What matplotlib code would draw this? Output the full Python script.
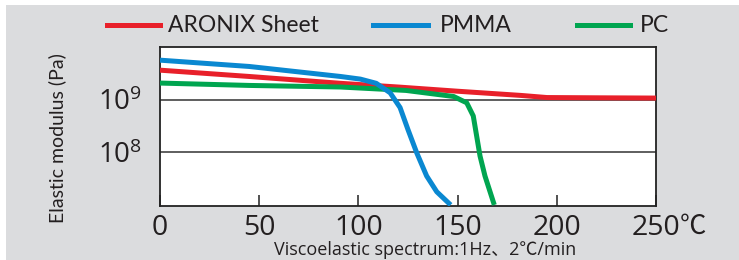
import matplotlib
matplotlib.use("Agg")
import matplotlib.pyplot as plt
from matplotlib.patches import Rectangle
import numpy as np

plt.rcParams['font.family'] = ['Open Sans', 'DejaVu Sans']
plt.rcParams['mathtext.fontset'] = 'custom'
plt.rcParams['mathtext.rm'] = 'Open Sans'
plt.rcParams['mathtext.it'] = 'Open Sans'

NARROW = ['Lato', 'Open Sans', 'DejaVu Sans']

# Data (temperature in degC, log10 of elastic modulus in Pa)
aronix_t = [0, 45, 91, 120, 150, 182, 195, 220, 250]
aronix_logE = [9.56, 9.44, 9.31, 9.24, 9.16, 9.08, 9.04, 9.035, 9.03]

pmma_t = [0, 45, 91, 101, 109, 116, 121, 125, 129.4, 134.4, 139.5, 146.5]
pmma_logE = [9.75, 9.63, 9.44, 9.39, 9.31, 9.13, 8.85, 8.43, 7.99, 7.55, 7.25, 7.0]

pc_t = [0, 45, 91, 124, 148, 154.6, 157.9, 159.6, 161.3, 163.8, 168.5]
pc_logE = [9.315, 9.27, 9.24, 9.175, 9.06, 8.94, 8.69, 8.31, 7.93, 7.55, 7.0]

series_names = ["ARONIX Sheet", "PMMA", "PC"]
series_colors = ["#e8202a", "#0a88d1", "#00a550"]

x_ticks = [0, 50, 100, 150, 200, 250]
x_tick_labels = ["0", "50", "100", "150", "200", "250"]
y_ticks = [1e8, 1e9]
y_tick_labels = [r"$\mathregular{10^{8}}$", r"$\mathregular{10^{9}}$"]

W, H = 739, 260
fig = plt.figure(figsize=(W / 100, H / 100), dpi=100)
fig.patch.set_facecolor("#dbdcde")
# thin white margins at the left and top
fig.patches.append(Rectangle((0, 0), 6 / W, 1, transform=fig.transFigure,
                             facecolor="white", edgecolor="none", zorder=0))
fig.patches.append(Rectangle((0, 1 - 5 / H), 1, 5 / H, transform=fig.transFigure,
                             facecolor="white", edgecolor="none", zorder=0))

ax = fig.add_axes([160 / W, 54 / H, 496 / W, 159 / H])
ax.set_zorder(2)
ax.set_facecolor("white")
ax.set_yscale("log")
ax.set_xlim(0, 250)
ax.set_ylim(10 ** 6.98, 10 ** 10.0)

for yv in y_ticks:
    ax.axhline(yv, color="#333333", lw=1.1, zorder=1)

data = [(aronix_t, aronix_logE), (pmma_t, pmma_logE), (pc_t, pc_logE)]
order = [0, 2, 1]
for i in order:
    t, le = data[i]
    ax.plot(t, 10 ** np.array(le), color=series_colors[i], lw=3.6,
            solid_capstyle="butt", solid_joinstyle="round", zorder=3)

for s in ax.spines.values():
    s.set_color("#222222")
    s.set_linewidth(1.3)

ax.set_xticks(x_ticks)
ax.set_xticklabels(x_tick_labels, fontsize=20.5, color="#231f20")
ax.tick_params(axis="x", direction="in", length=8, width=1.2, color="#333333", pad=5.5)
ax.set_yticks(y_ticks)
ax.set_yticklabels(y_tick_labels, fontsize=20, color="#231f20")
ax.yaxis.set_minor_locator(matplotlib.ticker.NullLocator())
ax.tick_params(axis="y", length=0, pad=13)

# degree-Celsius unit after the last tick label
ax.annotate("℃", xy=(1, 0), xycoords="axes fraction", xytext=(17.3, -20.2),
            textcoords="offset points", fontsize=19, color="#231f20",
            ha="left", va="baseline", family=["Noto Sans CJK JP", "DejaVu Sans"],
            annotation_clip=False)

fig.text(57 / W, 1 - 138 / H, "Elastic modulus (Pa)", rotation=90, fontsize=14,
         color="#231f20", ha="center", va="center", family=NARROW)
fig.text(425 / W, 1 - 255 / H, "Viscoelastic spectrum:1Hz、2℃/min", fontsize=13,
         color="#231f20", ha="center", va="baseline",
         family=["Open Sans", "Noto Sans CJK JP"])

# Legend
leg_items = [(107, 160, 168), (373, 428, 440), (577, 630, 640)]
for i, (x0, x1, xt) in enumerate(leg_items):
    fig.add_artist(plt.Line2D([x0 / W, x1 / W], [1 - 25 / H, 1 - 25 / H],
                              color=series_colors[i], lw=3.6, transform=fig.transFigure))
    fig.text(xt / W, 1 - 25 / H, series_names[i], fontsize=16.5, color="#231f20",
             ha="left", va="center", family=NARROW)

fig.savefig("out.png", dpi=100)
